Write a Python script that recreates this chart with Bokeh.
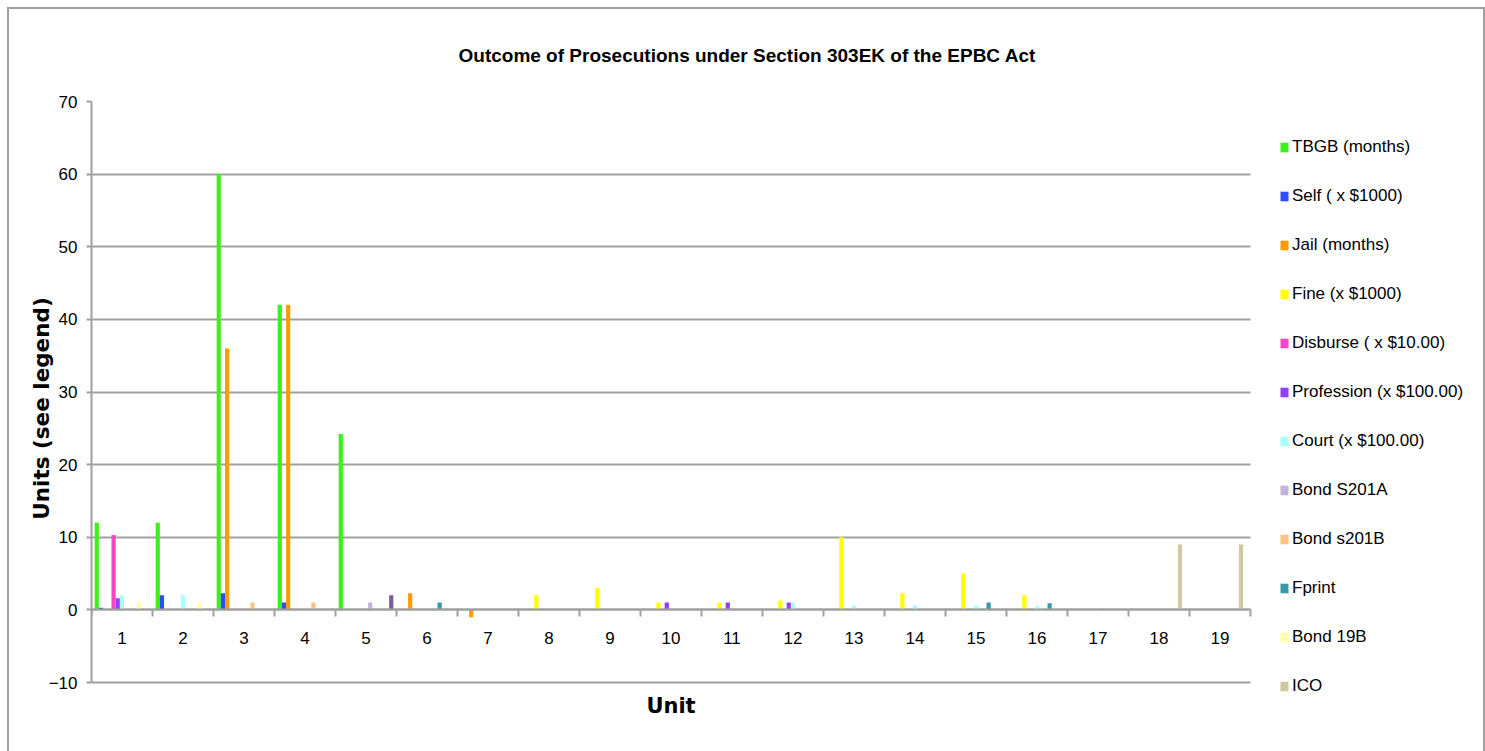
from bokeh.plotting import figure
from bokeh.models import (Range1d, LinearAxis, FixedTicker, ColumnDataSource,
                          Legend, LegendItem, Title, Grid, Label)
from bokeh.transform import dodge
from bokeh.embed import file_html
from bokeh.resources import INLINE

# ---------------- data ----------------
units = list(range(1, 20))
y_ticks = [-10, 0, 10, 20, 30, 40, 50, 60, 70]

tbgb       = [12, 12, 60, 42, 24.2, 0, 0, 0, 0, 0, 0, 0, 0, 0, 0, 0, 0, 0, 0]
self_pay   = [0.3, 2, 2.3, 1, 0, 0, 0, 0, 0, 0, 0, 0, 0, 0, 0, 0, 0, 0, 0]
jail       = [0, 0, 36, 42, 0, 2.3, -1, 0, 0, 0, 0, 0, 0, 0, 0, 0, 0, 0, 0]
fine       = [0, 0, 0, 0, 0, 0, 0, 2, 3, 1, 1, 1.3, 10, 2.3, 5, 2, 0, 0, 0]
disburse   = [10.3, 0, 0, 0, 0, 0, 0, 0, 0, 0, 0, 0, 0, 0, 0, 0, 0, 0, 0]
profession = [1.6, 0, 0, 0, 0, 0, 0, 0, 0, 1, 1, 1, 0, 0, 0, 0, 0, 0, 0]
court      = [2, 2, 0, 0, 0, 0, 0, 0, 0, 0, 0, 1, 0.6, 0.6, 0.6, 0.5, 0.2, 0, 0]
bond_s201a = [0, 0, 0, 0, 1, 0, 0, 0, 0, 0, 0, 0, 0, 0, 0, 0, 0, 0, 0]
bond_s201b = [0, 0, 1, 1, 0, 0, 0, 0, 0, 0, 0, 0, 0, 0, 0, 0, 0, 0, 0]
fprint     = [0, 0, 0, 0, 0, 1, 0, 0, 0, 0, 0, 0, 0, 0, 1, 0.9, 0, 0, 0]
bond_19b   = [1, 1, 0, 0, 0, 0, 0, 0, 0, 0, 0, 0, 0, 0, 0, 0, 0, 0, 0]
ico        = [0, 0, 0, 0, 0, 0, 0, 0, 0, 0, 0, 0, 0, 0, 0, 0, 0, 9, 9]
unlisted   = [0, 0, 0, 0, 2, 0, 0, 0, 0, 0, 0, 0, 0, 0, 0, 0, 0, 0, 0]

series_names = ["TBGB (months)", "Self ( x $1000)", "Jail (months)", "Fine (x $1000)",
                "Disburse ( x $10.00)", "Profession (x $100.00)", "Court (x $100.00)",
                "Bond S201A", "Bond s201B", "Fprint", "Bond 19B", "ICO", "(unlisted)"]
series_values = [tbgb, self_pay, jail, fine, disburse, profession, court,
                 bond_s201a, bond_s201b, fprint, bond_19b, ico, unlisted]
series_colors = ["#3df01c", "#2f4dfb", "#ff9a00", "#ffff00", "#ff44c4", "#9340fb",
                 "#aaffff", "#c2b4d6", "#ffc285", "#3a97a8", "#ffffaa", "#cfc8a4", "#7a5e9c"]

title_text = "Outcome of Prosecutions under Section 303EK of the EPBC Act"

# ---------------- style / geometry ----------------
FONT = "Liberation Sans"
GREY = "#a0a0a0"
PLOT_W, PLOT_H = 1159, 581          # pixel size of the charted area
FRAME_W, FRAME_H = 1392, 614        # frame extended so the legend sits inside it
x_lo, x_hi = units[0] - 0.5, units[-1] + 0.5
y_lo, y_hi = y_ticks[0], y_ticks[-1]
x_end = x_lo + (x_hi - x_lo) * FRAME_W / PLOT_W
y_start = y_hi - (y_hi - y_lo) * FRAME_H / PLOT_H

src = ColumnDataSource(dict(unit=units, **{f"s{i}": v for i, v in enumerate(series_values)}))

p = figure(frame_width=FRAME_W, frame_height=FRAME_H, output_backend="svg",
           toolbar_location=None,
           x_range=Range1d(x_lo, x_end), y_range=Range1d(y_start, y_hi),
           x_axis_type=None, y_axis_type=None,
           min_border_left=82, min_border_right=0, min_border_top=92, min_border_bottom=36)
p.margin = (7, 0, 0, 7)
p.styles = {"border-top": f"2px solid {GREY}", "border-left": f"2px solid {GREY}",
            "border-right": f"2px solid {GREY}"}
p.outline_line_color = None
p.background_fill_color = "white"
p.border_fill_color = "white"

p.add_layout(Title(text=title_text, align="left", offset=367, standoff=68,
                   vertical_align="top",
                   text_font=FONT, text_font_style="bold", text_font_size="19px",
                   text_color="black"), "above")

# y axis + grid (limited to the charted area)
yaxis = LinearAxis(ticker=FixedTicker(ticks=y_ticks), bounds=(y_lo, y_hi),
                   axis_line_color=GREY, axis_line_width=2,
                   major_tick_line_color=GREY, major_tick_line_width=2,
                   major_tick_out=5, major_tick_in=0, minor_tick_line_color=None,
                   major_label_text_font=FONT, major_label_text_font_size="17px",
                   major_label_text_color="black", major_label_standoff=9,
                   axis_label="Units (see legend)", axis_label_text_font="DejaVu Sans",
                   axis_label_text_font_style="bold", axis_label_text_font_size="21.5px",
                   axis_label_text_color="black", axis_label_standoff=-8)
p.add_layout(yaxis, "left")
p.add_layout(Grid(dimension=1, ticker=yaxis.ticker, cross_bounds=(x_lo, x_hi),
                  grid_line_color=GREY, grid_line_width=2))

# x axis at zero: tick marks between categories, labels at centres
boundaries = [u - 0.5 for u in units] + [units[-1] + 0.5]
xtick_axis = LinearAxis(fixed_location=0, ticker=FixedTicker(ticks=boundaries),
                        bounds=(x_lo, x_hi),
                        major_label_text_color=None, major_tick_out=7, major_tick_in=0,
                        major_tick_line_color=GREY, major_tick_line_width=2,
                        axis_line_color=GREY, axis_line_width=2, minor_tick_line_color=None)
xlab_axis = LinearAxis(fixed_location=0, ticker=FixedTicker(ticks=units),
                       axis_line_color=None, major_tick_line_color=None,
                       minor_tick_line_color=None, major_tick_out=0, major_tick_in=0,
                       major_label_standoff=22, major_label_text_font=FONT,
                       major_label_text_font_size="17px", major_label_text_color="black")
p.add_layout(xtick_axis, "below")
p.add_layout(xlab_axis, "below")

# x-axis title, centred under the category axis
p.add_layout(Label(x=(x_lo + x_hi) / 2, y=10, x_units="data", y_units="screen",
                   text="Unit", text_align="center", text_baseline="middle",
                   text_font="DejaVu Sans", text_font_style="bold",
                   text_font_size="21px", text_color="black"))

# bars
n = len(series_names)
w = 1 / (n + 1.5)
renderers = []
for i, col in enumerate(series_colors):
    r = p.vbar(x=dodge("unit", (i - (n - 1) / 2) * w, range=p.x_range), top=f"s{i}",
               bottom=0, width=w, source=src, fill_color=col, line_color=None)
    renderers.append(r)

legend = Legend(items=[LegendItem(label=series_names[i], renderers=[renderers[i]]) for i in range(12)],
                location=(1188, 18), orientation="vertical",
                glyph_width=10, glyph_height=12, label_standoff=3,
                label_height=23, spacing=26, padding=0, margin=0,
                border_line_color=None, background_fill_alpha=0,
                label_text_font=FONT, label_text_font_size="17px", label_text_color="black")
p.add_layout(legend, "center")

open("out.html", "w").write(file_html(p, INLINE))
